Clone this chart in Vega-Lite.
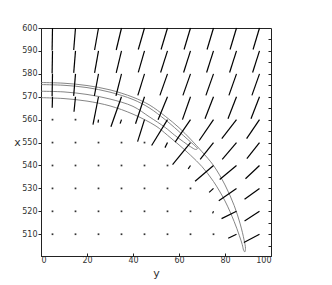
{
 "$schema": "https://vega.github.io/schema/vega-lite/v6.json",
 "width": 230, "height": 228,
 "autosize": {"type": "none"},
 "padding": {"left": 41, "top": 28, "right": 61, "bottom": 29},
 "background": "white",
 "config": {
  "view": {"stroke": "#222", "strokeWidth": 1},
  "axis": {"labelFont": "DejaVu Sans", "titleFont": "DejaVu Sans", "labelColor": "#333", "titleColor": "#333", "domainColor": "#222", "tickColor": "#222", "grid": false, "labelFontSize": 8, "titleFontSize": 11, "titleFontWeight": "normal"}
 },
 "datasets": {
  "cont": [
   {"c":1,"i":1,"y":0,"x":576.2},{"c":1,"i":2,"y":10,"x":575.9},{"c":1,"i":3,"y":20,"x":574.9},{"c":1,"i":4,"y":30,"x":573.0},{"c":1,"i":5,"y":40,"x":569.8},{"c":1,"i":6,"y":47,"x":566.5},{"c":1,"i":7,"y":54,"x":561.5},{"c":1,"i":8,"y":60,"x":556.5},{"c":1,"i":9,"y":65,"x":551.5},{"c":1,"i":10,"y":70,"x":546},{"c":1,"i":11,"y":75,"x":540},{"c":1,"i":12,"y":80,"x":531.5},{"c":1,"i":13,"y":84,"x":522.5},{"c":1,"i":14,"y":86.6,"x":514.5},{"c":1,"i":15,"y":88.3,"x":507.5},{"c":1,"i":16,"y":88.9,"x":503.8},{"c":1,"i":17,"y":88.6,"x":502.3},{"c":1,"i":18,"y":88.1,"x":503},{"c":1,"i":19,"y":87.5,"x":505.5},{"c":1,"i":20,"y":86.2,"x":509.5},{"c":1,"i":21,"y":84,"x":515.5},{"c":1,"i":22,"y":80,"x":524.5},{"c":1,"i":23,"y":75,"x":533},{"c":1,"i":24,"y":70,"x":539.5},{"c":1,"i":25,"y":65,"x":544.5},{"c":1,"i":26,"y":60,"x":549},{"c":1,"i":27,"y":55,"x":553.2},{"c":1,"i":28,"y":50,"x":557.2},{"c":1,"i":29,"y":40,"x":562.4},{"c":1,"i":30,"y":30,"x":566},{"c":1,"i":31,"y":20,"x":568.1},{"c":1,"i":32,"y":10,"x":569.2},{"c":1,"i":33,"y":0,"x":569.6},
   {"c":2,"i":1,"y":0,"x":575.3},{"c":2,"i":2,"y":10,"x":575.0},{"c":2,"i":3,"y":20,"x":574.0},{"c":2,"i":4,"y":30,"x":572.0},{"c":2,"i":5,"y":40,"x":568.8},{"c":2,"i":6,"y":47,"x":565.2},{"c":2,"i":7,"y":54,"x":560},{"c":2,"i":8,"y":58,"x":556.6},{"c":2,"i":9,"y":62,"x":553},{"c":2,"i":10,"y":65,"x":550.3},{"c":2,"i":11,"y":67.3,"x":548.2},{"c":2,"i":12,"y":68,"x":547.3},{"c":2,"i":13,"y":67.2,"x":547},{"c":2,"i":14,"y":65,"x":548.2},{"c":2,"i":15,"y":62,"x":550.3},{"c":2,"i":16,"y":58,"x":553.3},{"c":2,"i":17,"y":54,"x":556.6},{"c":2,"i":18,"y":47,"x":561.3},{"c":2,"i":19,"y":40,"x":565.8},{"c":2,"i":20,"y":30,"x":569},{"c":2,"i":21,"y":20,"x":571},{"c":2,"i":22,"y":10,"x":572.1},{"c":2,"i":23,"y":0,"x":572.4}
  ],
  "vec": [
   {"y":5,"x":600,"yt":4.83,"xt":590.2},{"y":15,"x":600,"yt":14.22,"xt":590.4},{"y":25,"x":600,"yt":23.3,"xt":590.4},{"y":35,"x":600,"yt":32.7,"xt":590.4},{"y":45,"x":600,"yt":42.3,"xt":590.6},{"y":55,"x":600,"yt":52.2,"xt":590.6},{"y":65,"x":600,"yt":62.2,"xt":590.6},{"y":75,"x":600,"yt":72.2,"xt":590.6},{"y":85,"x":600,"yt":82.2,"xt":590.6},{"y":95,"x":600,"yt":92.2,"xt":590.6},
   {"y":5,"x":590,"yt":4.83,"xt":580.2},{"y":15,"x":590,"yt":14.22,"xt":580.4},{"y":25,"x":590,"yt":23.3,"xt":580.4},{"y":35,"x":590,"yt":32.7,"xt":580.4},{"y":45,"x":590,"yt":42.3,"xt":580.6},{"y":55,"x":590,"yt":52.0,"xt":580.6},{"y":65,"x":590,"yt":62.0,"xt":580.6},{"y":75,"x":590,"yt":72.0,"xt":580.6},{"y":85,"x":590,"yt":82.0,"xt":580.6},{"y":95,"x":590,"yt":92.0,"xt":580.6},
   {"y":5,"x":580,"yt":4.83,"xt":570.2},{"y":15,"x":580,"yt":14.2,"xt":570.4},{"y":25,"x":580,"yt":23.2,"xt":570.4},{"y":35,"x":580,"yt":32.6,"xt":570.4},{"y":45,"x":580,"yt":42.1,"xt":570.6},{"y":55,"x":580,"yt":51.7,"xt":570.6},{"y":65,"x":580,"yt":61.7,"xt":570.6},{"y":75,"x":580,"yt":71.7,"xt":570.6},{"y":85,"x":580,"yt":81.7,"xt":570.6},{"y":95,"x":580,"yt":91.7,"xt":570.6},
   {"y":5,"x":570,"yt":4.87,"xt":565.2},{"y":15,"x":570,"yt":14.35,"xt":563.45},{"y":25,"x":570,"yt":22.6,"xt":557.8},{"y":35,"x":570,"yt":30.4,"xt":556.9},{"y":45,"x":570,"yt":41.1,"xt":558.2},{"y":55,"x":570,"yt":50.9,"xt":560},{"y":65,"x":570,"yt":61.5,"xt":560},{"y":75,"x":570,"yt":71.3,"xt":560.4},{"y":85,"x":570,"yt":81.3,"xt":560.4},{"y":95,"x":570,"yt":91.3,"xt":560.4},
   {"y":25,"x":560,"yt":24.8,"xt":558.7},{"y":35,"x":560,"yt":34.4,"xt":558.25},{"y":45,"x":560,"yt":42,"xt":550.4},{"y":55,"x":560,"yt":48.1,"xt":548.7},{"y":65,"x":560,"yt":58.3,"xt":550.2},{"y":75,"x":560,"yt":68.8,"xt":550.9},{"y":85,"x":560,"yt":78.6,"xt":551.7},{"y":95,"x":560,"yt":89.4,"xt":551.7},
   {"y":55,"x":550,"yt":53.9,"xt":547.8},{"y":65,"x":550,"yt":57.2,"xt":540.4},{"y":75,"x":550,"yt":69.2,"xt":542.7},{"y":85,"x":550,"yt":78.8,"xt":542.7},{"y":95,"x":550,"yt":89.5,"xt":543},
   {"y":65,"x":540,"yt":64,"xt":538.55},{"y":75,"x":540,"yt":67,"xt":533.1},{"y":85,"x":540,"yt":77.7,"xt":533.9},{"y":95,"x":540,"yt":88.9,"xt":534.2},
   {"y":75,"x":530,"yt":73.1,"xt":528.25},{"y":85,"x":530,"yt":77.3,"xt":524.6},{"y":95,"x":530,"yt":88.5,"xt":525.3},
   {"y":75,"x":520,"yt":74.6,"xt":519.1},{"y":85,"x":520,"yt":78.5,"xt":516.8},{"y":95,"x":520,"yt":88.5,"xt":515.8},
   {"y":85,"x":510,"yt":81.4,"xt":508.25},{"y":95,"x":510,"yt":88.2,"xt":506.4}
  ],
  "dots": [
   {"y":5,"x":560},{"y":15,"x":560},
   {"y":5,"x":550},{"y":15,"x":550},{"y":25,"x":550},{"y":35,"x":550},{"y":45,"x":550},
   {"y":5,"x":540},{"y":15,"x":540},{"y":25,"x":540},{"y":35,"x":540},{"y":45,"x":540},{"y":55,"x":540},
   {"y":5,"x":530},{"y":15,"x":530},{"y":25,"x":530},{"y":35,"x":530},{"y":45,"x":530},{"y":55,"x":530},{"y":65,"x":530},
   {"y":5,"x":520},{"y":15,"x":520},{"y":25,"x":520},{"y":35,"x":520},{"y":45,"x":520},{"y":55,"x":520},{"y":65,"x":520},
   {"y":5,"x":510},{"y":15,"x":510},{"y":25,"x":510},{"y":35,"x":510},{"y":45,"x":510},{"y":55,"x":510},{"y":65,"x":510},{"y":75,"x":510}
  ]
 },
 "layer": [
  {
   "data": {"name": "cont"},
   "mark": {"type": "line", "interpolate": "catmull-rom", "stroke": "#777", "strokeWidth": 0.9},
   "encoding": {
    "x": {"field": "y", "type": "quantitative", "scale": {"domain": [0, 100], "nice": false, "zero": false},
          "axis": {"values": [0, 20, 40, 60, 80, 100], "tickSize": -3, "labelPadding": 3, "title": "y", "titleX": 115, "titleY": 20, "titleBaseline": "alphabetic", "titleAlign": "center"}},
    "y": {"field": "x", "type": "quantitative", "scale": {"domain": [500.5, 600], "nice": false, "zero": false},
          "axis": {"orient": "left", "values": [510, 520, 530, 540, 550, 560, 570, 580, 590, 600], "tickSize": 3, "labelPadding": 1, "title": "x", "titleAngle": 0, "titleX": -24, "titleY": 117, "titleBaseline": "alphabetic", "titleAlign": "center"}},
    "detail": {"field": "c"},
    "order": {"field": "i", "type": "quantitative"}
   }
  },
  {
   "data": {"name": "vec"},
   "mark": {"type": "rule", "color": "black", "strokeWidth": 1.2},
   "encoding": {
    "x": {"field": "y", "type": "quantitative", "scale": {"domain": [0, 100], "nice": false, "zero": false},
          "axis": {"values": [0, 20, 40, 60, 80, 100], "tickSize": -3, "labelPadding": 3, "title": "y", "titleX": 115, "titleY": 20, "titleBaseline": "alphabetic", "titleAlign": "center"}},
    "x2": {"field": "yt"},
    "y": {"field": "x", "type": "quantitative", "scale": {"domain": [500.5, 600], "nice": false, "zero": false},
          "axis": {"orient": "right", "values": [505, 510, 515, 520, 525, 530, 535, 540, 545, 550, 555, 560, 565, 570, 575, 580, 585, 590, 595], "tickSize": -3, "labels": false, "title": null, "domain": false}},
    "y2": {"field": "xt"}
   }
  },
  {
   "data": {"name": "dots"},
   "mark": {"type": "point", "shape": "square", "filled": true, "size": 3, "color": "#333", "opacity": 1},
   "encoding": {
    "x": {"field": "y", "type": "quantitative", "scale": {"domain": [0, 100], "nice": false, "zero": false},
          "axis": {"values": [0, 20, 40, 60, 80, 100], "tickSize": -3, "labelPadding": 3, "title": "y", "titleX": 115, "titleY": 20, "titleBaseline": "alphabetic", "titleAlign": "center"}},
    "y": {"field": "x", "type": "quantitative", "scale": {"domain": [500.5, 600], "nice": false, "zero": false}, "axis": null}
   }
  }
 ],
 "resolve": {"axis": {"y": "independent"}}
}
